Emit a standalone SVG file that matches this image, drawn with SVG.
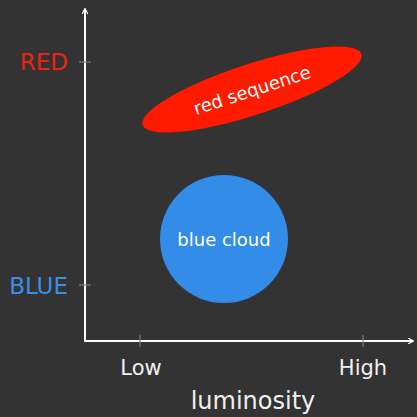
<svg xmlns="http://www.w3.org/2000/svg" width="417" height="417" viewBox="0 0 417 417">
<defs>
<style>
.t{font-family:"DejaVu Sans","Liberation Sans",sans-serif;}
.w{fill:#ffffff;}
.tick{stroke:#7a7a7a;stroke-width:1.2;}
.axis{stroke:#ffffff;stroke-width:2;fill:none;}
</style>
<marker id="ah" viewBox="0 0 10 10" refX="8" refY="5" markerWidth="7" markerHeight="7" markerUnits="userSpaceOnUse" orient="auto">
<path d="M1,1 L9,5 L1,9" fill="none" stroke="#ffffff" stroke-width="1.6"/>
</marker>
</defs>
<rect width="417" height="417" fill="#333333"/>
<g id="connectors">
<line class="axis" x1="85" y1="342" x2="85" y2="9" marker-end="url(#ah)"/>
<line class="axis" x1="84" y1="341" x2="413" y2="341" marker-end="url(#ah)"/>
<line class="tick" x1="79" y1="62" x2="91" y2="62"/>
<line class="tick" x1="79" y1="285" x2="91" y2="285"/>
<line class="tick" x1="140" y1="335" x2="140" y2="347"/>
<line class="tick" x1="363" y1="335" x2="363" y2="347"/>
</g>
<g id="red-sequence">
<ellipse cx="252" cy="89.5" rx="115" ry="25.5" transform="rotate(-18 252 89.5)" fill="#ff1a00"/>
<text class="t w" x="252" y="96.5" font-size="18" text-anchor="middle" transform="rotate(-18 252 90)">red sequence</text>
</g>
<g id="blue-cloud">
<circle cx="224" cy="239" r="64" fill="#338ce8"/>
<text class="t w" x="224" y="246" font-size="18" text-anchor="middle">blue cloud</text>
</g>
<g id="labels">
<text class="t" x="68" y="70" font-size="23" text-anchor="end" fill="#ee2210">RED</text>
<text class="t" x="68" y="294" font-size="23" text-anchor="end" fill="#3a8fe6">BLUE</text>
<text class="t" x="141" y="375" font-size="21" text-anchor="middle" fill="#f0f0f0">Low</text>
<text class="t" x="363" y="375" font-size="21" text-anchor="middle" fill="#f0f0f0">High</text>
<text class="t" x="253" y="409" font-size="24" text-anchor="middle" fill="#f0f0f0">luminosity</text>
</g>
</svg>
